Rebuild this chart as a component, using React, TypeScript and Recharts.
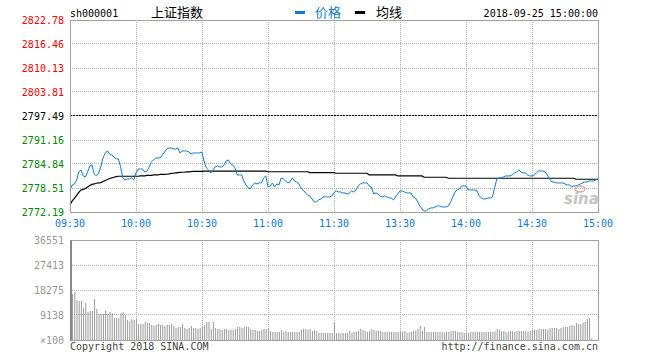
import { ComposedChart, Line, Bar, XAxis, YAxis, CartesianGrid, ReferenceLine } from "recharts";

const MONO = "'DejaVu Sans Mono', 'Liberation Mono', monospace";
const CJK = "'Noto Sans CJK SC', sans-serif";
const BLUE = "#0f7ccf";
const RED = "#ff0000";
const GREEN = "#008800";
const GRID = "#b0b0b0";

const prevClose = 2797.49;
const timeTicks = [0, 30, 60, 90, 120, 150, 180, 210, 240];
const timeLabels = ["09:30", "10:00", "10:30", "11:00", "11:30", "13:30", "14:00", "14:30", "15:00"];
const priceTicks = [2772.19, 2778.51, 2784.84, 2791.16, 2797.49, 2803.81, 2810.13, 2816.46, 2822.78];
const pctLabels = ["-0.90%", "-0.68%", "-0.45%", "-0.23%", "0.00%", "+0.23%", "+0.45%", "+0.68%", "+0.90%"];
const volumeTicks = [0, 9138, 18275, 27413, 36551];
const volumeLabels = ["×100", "9138", "18275", "27413", "36551"];

// 09:30 .. 11:30, 13:01 .. 15:00, one value per minute
const price = [
  2778.0, 2779.32, 2779.58, 2780.64, 2782.74, 2783.27, 2781.69, 2781.43, 2782.74, 2784.32,
  2784.59, 2782.22, 2781.69, 2782.48, 2784.06, 2786.43, 2787.75, 2788.27, 2787.48, 2787.22,
  2786.69, 2786.17, 2786.17, 2784.06, 2781.16, 2780.64, 2780.9, 2780.9, 2781.16, 2780.64,
  2782.48, 2783.53, 2783.53, 2783.53, 2782.74, 2783.01, 2784.06, 2785.38, 2785.9, 2786.43,
  2786.43, 2786.43, 2787.22, 2788.01, 2788.8, 2789.06, 2789.06, 2788.8, 2788.8, 2789.06,
  2787.75, 2788.27, 2788.27, 2788.27, 2788.01, 2787.48, 2787.75, 2787.75, 2787.75, 2787.75,
  2788.01, 2785.38, 2783.8, 2783.27, 2782.48, 2783.27, 2784.06, 2784.32, 2784.06, 2784.06,
  2784.59, 2785.64, 2785.9, 2784.85, 2784.59, 2783.8, 2781.95, 2781.95, 2781.95, 2780.37,
  2779.32, 2778.53, 2778.27, 2779.32, 2779.85, 2779.58, 2779.85, 2779.85, 2781.16, 2781.69,
  2778.79, 2779.06, 2779.85, 2778.79, 2779.58, 2779.32, 2781.16, 2780.9, 2780.37, 2779.85,
  2780.11, 2781.16, 2780.37, 2780.11, 2779.58, 2778.53, 2778.0, 2777.21, 2776.69, 2776.42,
  2775.63, 2774.84, 2774.84, 2775.37, 2775.63, 2776.16, 2776.16, 2776.16, 2776.16, 2776.42,
  2777.21, 2777.74, 2777.48, 2777.48, 2777.21, 2777.21, 2776.95, 2777.21, 2777.74, 2777.48,
  2778.0, 2779.06, 2779.58, 2779.85, 2779.85, 2779.85, 2779.06, 2778.79, 2776.95, 2777.21,
  2776.95, 2776.42, 2776.16, 2776.42, 2776.16, 2775.9, 2775.9, 2775.37, 2776.16, 2776.95,
  2777.74, 2777.74, 2777.48, 2777.21, 2777.21, 2777.21, 2776.16, 2775.9, 2774.84, 2773.79,
  2773.0, 2772.47, 2772.47, 2773.0, 2773.26, 2773.26, 2773.53, 2773.79, 2773.79, 2773.53,
  2773.53, 2773.53, 2773.79, 2774.84, 2776.16, 2777.48, 2778.0, 2778.27, 2779.06, 2779.06,
  2779.06, 2778.0, 2778.0, 2778.0, 2778.0, 2777.74, 2776.42, 2775.9, 2775.63, 2775.63,
  2775.9, 2775.9, 2776.16, 2778.53, 2780.9, 2781.16, 2781.16, 2781.43, 2781.69, 2781.69,
  2781.69, 2781.95, 2782.48, 2782.74, 2783.27, 2782.74, 2782.48, 2782.48, 2781.95, 2781.69,
  2781.69, 2781.95, 2782.48, 2783.01, 2783.01, 2783.01, 2782.74, 2781.95, 2780.9, 2780.11,
  2780.11, 2779.85, 2779.85, 2779.85, 2779.85, 2779.58, 2779.32, 2779.32, 2778.79, 2779.06,
  2779.06, 2779.32, 2779.58, 2779.85, 2780.11, 2780.11, 2780.37, 2780.37, 2780.37, 2780.64,
  2780.9,
];

const avgPrice = [
  2774.05, 2775.11, 2775.77, 2776.56, 2777.35, 2778.0, 2778.14, 2778.4, 2778.79, 2779.19,
  2779.45, 2779.58, 2779.77, 2779.85, 2779.93, 2780.24, 2780.5, 2780.77, 2781.03, 2781.16,
  2781.35, 2781.51, 2781.61, 2781.61, 2781.61, 2781.61, 2781.61, 2781.61, 2781.61, 2781.61,
  2781.61, 2781.61, 2781.69, 2781.69, 2781.69, 2781.82, 2781.82, 2781.82, 2781.95, 2781.95,
  2781.95, 2782.09, 2782.09, 2782.09, 2782.14, 2782.22, 2782.35, 2782.4, 2782.48, 2782.56,
  2782.61, 2782.66, 2782.66, 2782.74, 2782.74, 2782.82, 2782.88, 2782.88, 2782.88, 2782.88,
  2782.88, 2782.95, 2782.95, 2782.95, 2782.95, 2782.95, 2782.95, 2782.95, 2782.95, 2782.95,
  2782.95, 2782.95, 2782.95, 2782.95, 2782.95, 2782.95, 2782.95, 2782.95, 2782.95, 2782.95,
  2782.95, 2782.95, 2782.95, 2782.95, 2782.95, 2782.95, 2782.95, 2782.95, 2782.95, 2782.95,
  2782.8, 2782.8, 2782.8, 2782.8, 2782.8, 2782.8, 2782.8, 2782.8, 2782.8, 2782.8,
  2782.8, 2782.8, 2782.8, 2782.8, 2782.8, 2782.8, 2782.8, 2782.8, 2782.8, 2782.56,
  2782.56, 2782.56, 2782.56, 2782.56, 2782.56, 2782.56, 2782.56, 2782.56, 2782.56, 2782.56,
  2782.56, 2782.4, 2782.4, 2782.4, 2782.4, 2782.4, 2782.4, 2782.4, 2782.4, 2782.4,
  2782.4, 2782.4, 2782.4, 2782.4, 2782.4, 2782.4, 2781.95, 2781.95, 2781.95, 2781.95,
  2781.95, 2781.95, 2781.95, 2781.95, 2781.95, 2781.95, 2781.95, 2781.95, 2781.95, 2781.69,
  2781.69, 2781.69, 2781.69, 2781.69, 2781.69, 2781.69, 2781.69, 2781.69, 2781.69, 2781.69,
  2781.69, 2781.35, 2781.35, 2781.35, 2781.35, 2781.35, 2781.35, 2781.35, 2781.35, 2781.35,
  2781.35, 2781.35, 2781.08, 2781.08, 2781.08, 2781.08, 2781.08, 2781.08, 2781.08, 2781.08,
  2781.08, 2781.08, 2781.08, 2781.08, 2781.08, 2781.08, 2781.08, 2781.08, 2781.08, 2781.08,
  2781.08, 2781.08, 2781.08, 2781.08, 2781.08, 2781.08, 2781.08, 2781.08, 2781.08, 2781.08,
  2781.08, 2781.08, 2781.08, 2781.08, 2781.08, 2781.08, 2781.08, 2781.08, 2781.08, 2781.08,
  2781.08, 2781.08, 2781.08, 2781.08, 2781.08, 2781.08, 2781.08, 2781.08, 2781.08, 2781.08,
  2781.08, 2781.08, 2781.08, 2781.08, 2781.08, 2781.08, 2781.08, 2781.08, 2781.08, 2781.08,
  2780.82, 2780.82, 2780.82, 2780.82, 2780.82, 2780.82, 2780.82, 2780.82, 2780.82, 2780.82,
  2780.82,
];

// volume, in lots of 100
const volume = [
  18275, 16813, 17545, 14620, 14255, 14255, 11696, 13524, 10234, 10600,
  10600, 14986, 11331, 9503, 9503, 9503, 10600, 9503, 10234, 9869,
  8041, 8041, 8041, 9869, 10234, 9138, 7310, 6945, 7676, 7310,
  7676, 5848, 5848, 5848, 6579, 6214, 6214, 5483, 5117, 5483,
  5848, 5483, 5483, 5117, 5483, 5483, 5848, 5117, 4386, 4752,
  4752, 5848, 4386, 4021, 4386, 5117, 4386, 4386, 4021, 4386,
  4752, 5483, 6579, 6579, 4021, 6579, 4386, 4021, 4021, 3655,
  4021, 4021, 3655, 3655, 3655, 4021, 4752, 4752, 4386, 4752,
  4752, 4752, 4021, 3655, 3655, 3290, 3290, 3655, 4021, 4021,
  4021, 3290, 2924, 2924, 2924, 2924, 3655, 2924, 3290, 2924,
  2924, 2924, 2924, 2924, 2924, 3655, 4021, 4021, 3655, 4021,
  3290, 3655, 3290, 2559, 2559, 2559, 2559, 2559, 2559, 2559,
  6214, 2559, 2559, 2559, 2559, 2559, 2559, 3290, 2559, 2924,
  2924, 3290, 4021, 3655, 3290, 2924, 3290, 4021, 3655, 3290,
  3290, 3290, 2924, 2924, 2924, 2924, 2924, 2924, 2924, 2924,
  3290, 2924, 3290, 2559, 2559, 2924, 3290, 3290, 4021, 5117,
  3290, 4752, 2924, 2924, 2924, 2924, 2924, 2924, 2924, 2924,
  2559, 2924, 2924, 3290, 3290, 3290, 2924, 2924, 2924, 2559,
  2559, 2559, 2924, 2924, 2924, 2924, 2924, 2924, 2924, 2924,
  2924, 2924, 2924, 3290, 4021, 3655, 3290, 3290, 2924, 2924,
  3290, 3290, 2924, 3290, 3290, 3290, 3290, 3290, 2924, 3290,
  3655, 3655, 3655, 4021, 4021, 4021, 4021, 3655, 4386, 4386,
  4386, 4386, 4021, 4386, 4752, 4752, 4752, 5117, 5483, 5117,
  6214, 5848, 5848, 6214, 6579, 7676, 8041, 731, 0, 0,
  0,
];

const rows = price.map((p, i) => ({ t: i, price: p, avg: avgPrice[i], volume: volume[i] }));

function PriceTick(props: any) {
  const { x, y, payload, side } = props;
  const v = payload.value;
  const color = Math.abs(v - prevClose) < 0.001 ? "#000" : v > prevClose ? RED : GREEN;
  const idx = priceTicks.indexOf(v);
  const label = side === "left" ? v.toFixed(2) : pctLabels[idx];
  return (
    <text x={x} y={y} dy={4} textAnchor={side === "left" ? "end" : "start"} fill={color} fontSize={10} fontFamily={MONO}>
      {label}
    </text>
  );
}

function VolumeTick(props: any) {
  const { x, y, payload } = props;
  const idx = volumeTicks.indexOf(payload.value);
  return (
    <text x={x} y={y} dy={4} textAnchor="end" fill="#999" fontSize={10} fontFamily={MONO}>
      {volumeLabels[idx]}
    </text>
  );
}

export default function App() {
  return (
    <div style={{ position: "absolute", left: 0, top: 0, width: 660, height: 360, background: "#fff" }}>
      <style>{`.recharts-cartesian-grid line, .recharts-reference-line line { shape-rendering: crispEdges; }`}</style>

      <div style={{ position: "absolute", left: 0, top: 0 }}>
        <ComposedChart width={660} height={232} data={rows} margin={{ top: 20, right: 0, bottom: 0, left: 0 }}>
          <CartesianGrid yAxisId="p" stroke={GRID} strokeDasharray="1 1" />
          <XAxis
            dataKey="t"
            type="number"
            domain={[0, 240]}
            ticks={timeTicks}
            interval={0}
            axisLine={false}
            tickLine={false}
            tickSize={0}
            tickMargin={8}
            height={20}
            tick={{ fill: BLUE, fontSize: 10, fontFamily: MONO }}
            tickFormatter={(v) => timeLabels[timeTicks.indexOf(v)]}
          />
          <YAxis
            yAxisId="p"
            domain={[priceTicks[0], priceTicks[8]]}
            ticks={priceTicks}
            interval={0}
            width={70}
            axisLine={false}
            tickLine={false}
            tickSize={0}
            tickMargin={6}
            tick={<PriceTick side="left" />}
          />
          <YAxis
            yAxisId="r"
            orientation="right"
            domain={[priceTicks[0], priceTicks[8]]}
            ticks={priceTicks}
            interval={0}
            width={62}
            axisLine={false}
            tickLine={false}
            tickSize={0}
            tickMargin={5}
            tick={<PriceTick side="right" />}
          />
          <ReferenceLine yAxisId="p" y={prevClose} stroke="#000" strokeDasharray="2 1" />
          <Line yAxisId="p" dataKey="avg" type="linear" stroke="#000" strokeWidth={1.2} dot={false} isAnimationActive={false} />
          <Line yAxisId="p" dataKey="price" type="linear" stroke={BLUE} strokeWidth={1} dot={false} isAnimationActive={false} />
        </ComposedChart>
      </div>

      <div style={{ position: "absolute", left: 0, top: 230 }}>
        <ComposedChart width={660} height={118} data={rows} margin={{ top: 10, right: 62, bottom: 8, left: 0 }}>
          <CartesianGrid stroke={GRID} strokeDasharray="1 1" />
          <XAxis dataKey="t" type="number" domain={[0, 240]} ticks={timeTicks} hide />
          <YAxis
            domain={[0, volumeTicks[4]]}
            ticks={volumeTicks}
            interval={0}
            width={70}
            axisLine={false}
            tickLine={false}
            tickSize={0}
            tickMargin={6}
            tick={<VolumeTick />}
          />
          <Bar dataKey="volume" fill="#999" barSize={1} isAnimationActive={false} />
        </ComposedChart>
      </div>

      <div style={{ position: "absolute", left: 70, top: 20, width: 529, height: 193, boxSizing: "border-box", border: "1px solid #a0a0a0" }} />
      <div style={{ position: "absolute", left: 70, top: 240, width: 529, height: 101, boxSizing: "border-box", border: "1px solid #a0a0a0", borderLeft: "2px solid #888" }} />

      <svg width={660} height={360} style={{ position: "absolute", left: 0, top: 0, pointerEvents: "none" }}>
        <text x={70} y={17} fontSize={10} fontFamily={MONO} fill="#000">sh000001</text>
        <text x={151} y={17} fontSize={13} fontFamily={CJK} fill="#000">上证指数</text>
        <rect x={295} y={11} width={10} height={3} fill={BLUE} />
        <text x={315} y={17} fontSize={13} fontFamily={CJK} fill={BLUE}>价格</text>
        <rect x={355} y={11} width={10} height={3} fill="#000" />
        <text x={376} y={17} fontSize={13} fontFamily={CJK} fill="#000">均线</text>
        <text x={598} y={17} fontSize={10} fontFamily={MONO} fill="#000" textAnchor="end">2018-09-25 15:00:00</text>
        <ellipse cx={580} cy={189} rx={5} ry={3} fill="none" stroke="#e8a8a8" strokeWidth={1.5} />
        <text x={564} y={204} fontSize={15} fontWeight="bold" fontStyle="italic" fontFamily="'DejaVu Sans', sans-serif" fill="#c4c4c4">sina</text>
        <text x={70} y={350} fontSize={10} fontFamily={MONO} fill="#444">Copyright 2018 SINA.COM</text>
        <text x={598} y={350} fontSize={10} fontFamily={MONO} fill="#444" textAnchor="end">http://finance.sina.com.cn</text>
      </svg>
    </div>
  );
}
